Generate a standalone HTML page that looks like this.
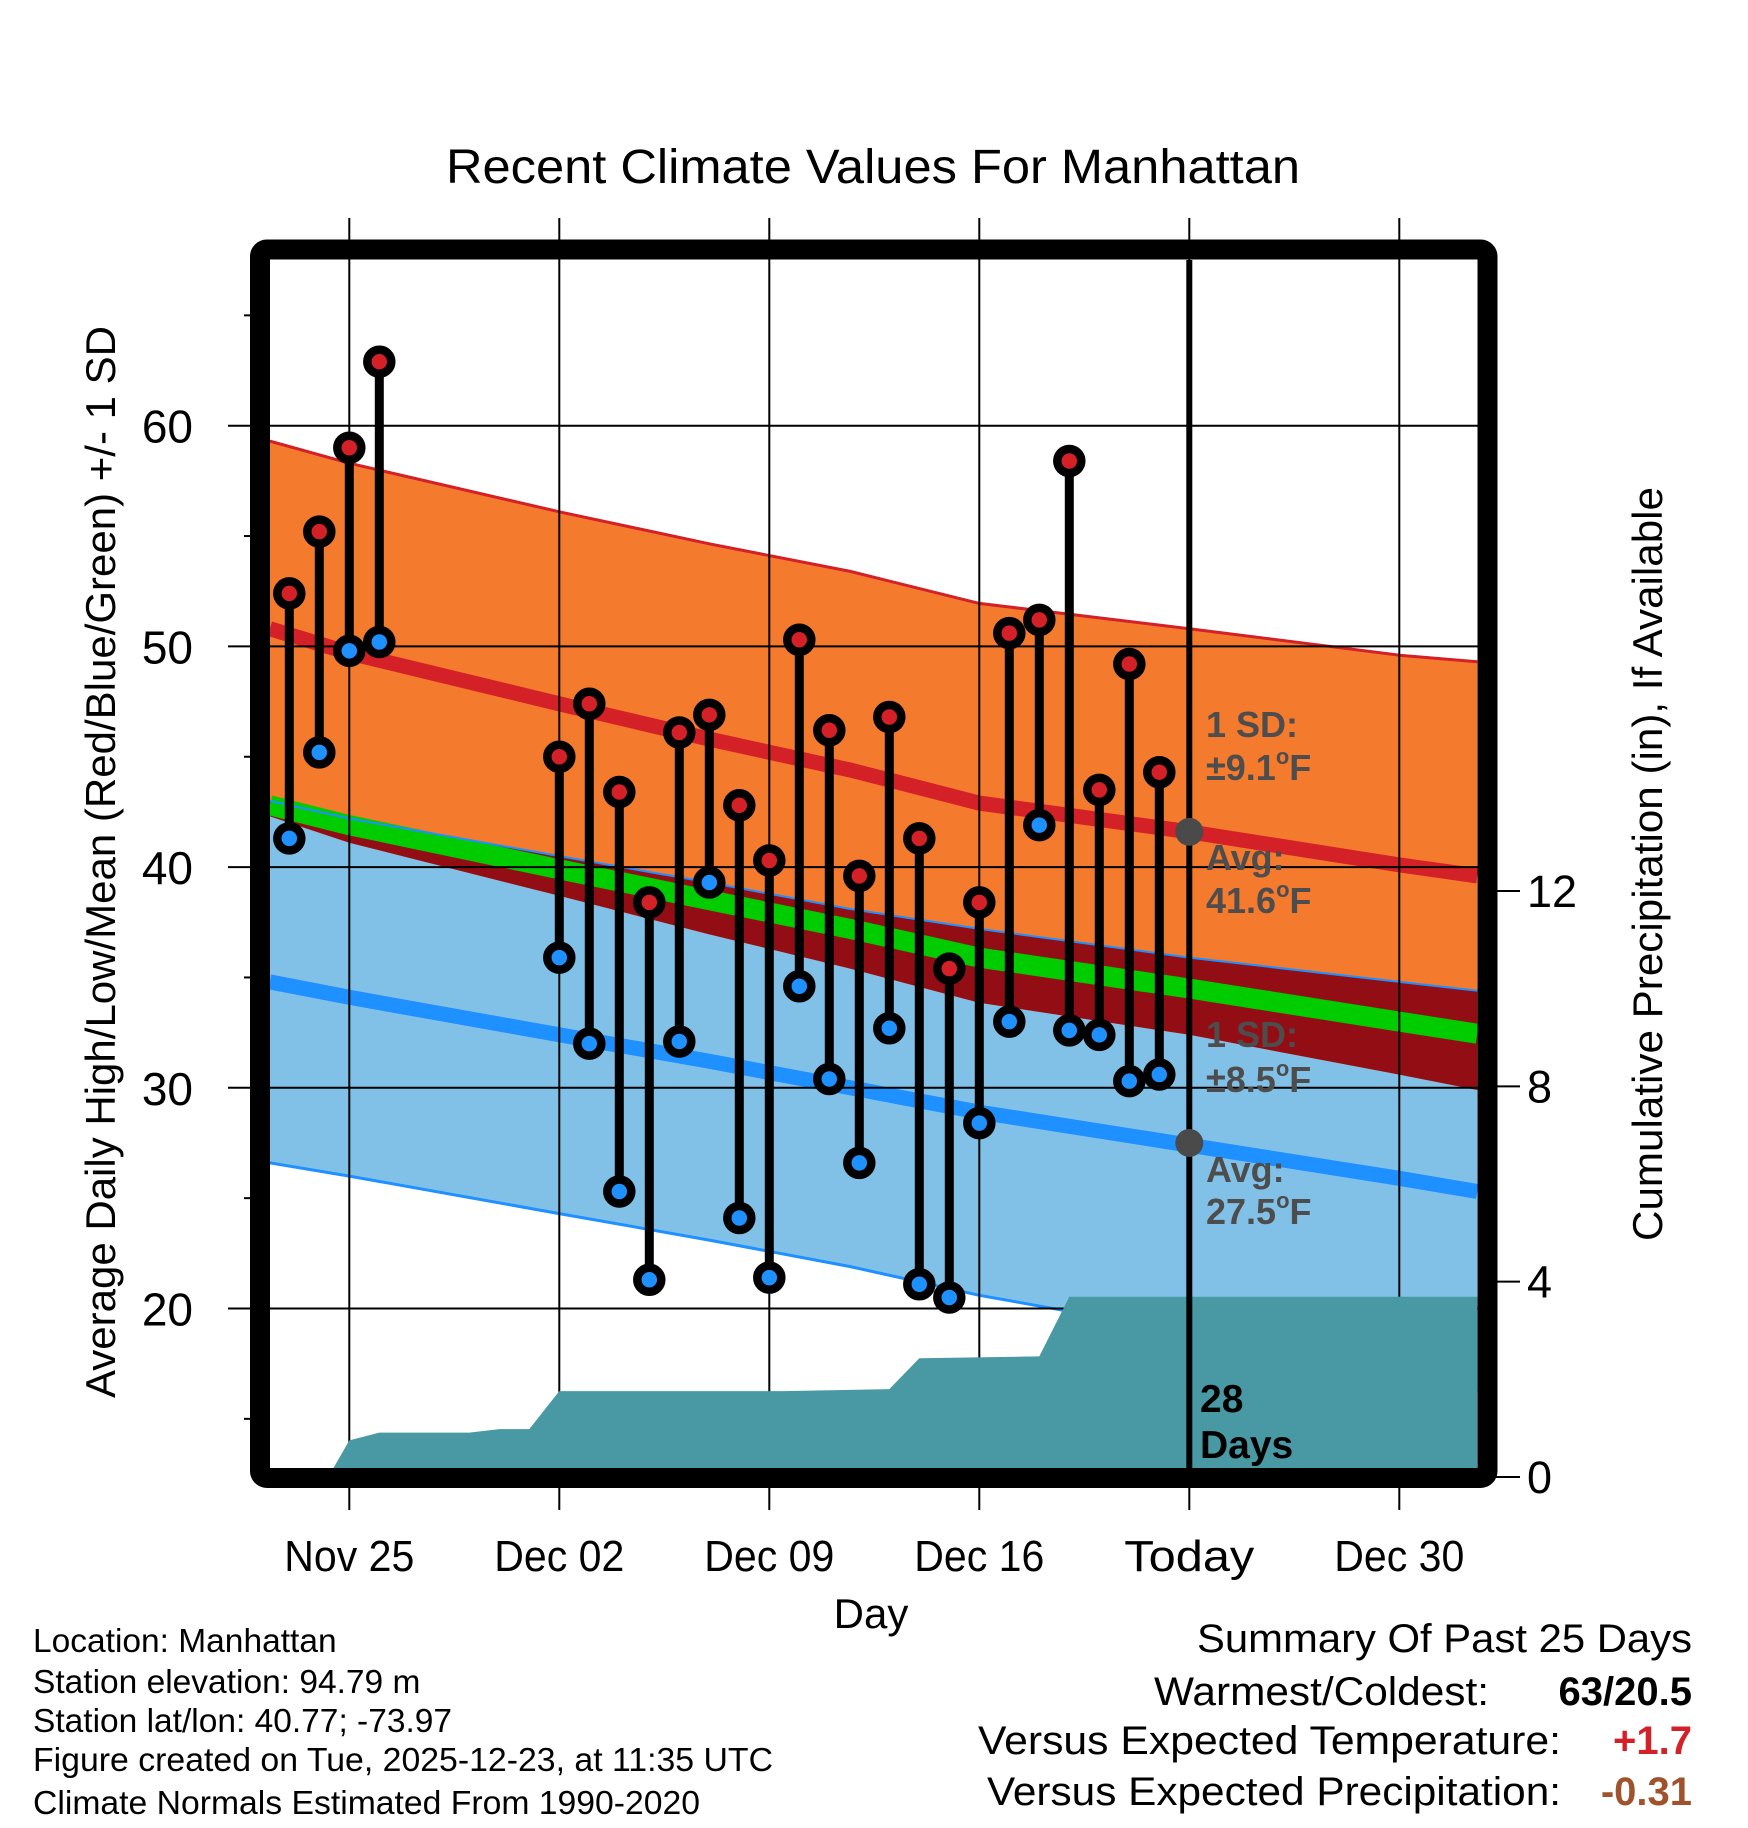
<!DOCTYPE html>
<html><head><meta charset="utf-8"><title>Recent Climate Values For Manhattan</title>
<style>
html,body{margin:0;padding:0;background:#fff;}
svg{display:block;font-family:"Liberation Sans",Arial,sans-serif;}
</style></head>
<body>
<svg id="chart" width="1748" height="1828" viewBox="0 0 1748 1828" xmlns="http://www.w3.org/2000/svg">
<defs><clipPath id="plotclip"><rect x="270" y="260" width="1208" height="1208"/></clipPath></defs>
<rect x="0" y="0" width="1748" height="1828" fill="#fff"/>
<text x="873" y="183" font-size="48" text-anchor="middle" textLength="854" lengthAdjust="spacingAndGlyphs">Recent Climate Values For Manhattan</text>
<g id="bands" clip-path="url(#plotclip)"></g>
<g id="grid"></g>
<g id="precip" clip-path="url(#plotclip)"></g>
<g id="stems" clip-path="url(#plotclip)"></g>
<g id="today"></g>
<rect x="260" y="249.5" width="1227.5" height="1228.5" rx="7" fill="none" stroke="#000" stroke-width="20"/>
<g id="axes"></g>
<g font-weight="bold" fill="#4d4d4d" font-size="36">
<text x="1206" y="737">1 SD:</text>
<text x="1206" y="780">±9.1<tspan font-size="22" dy="-16">o</tspan><tspan dy="16">F</tspan></text>
<text x="1206" y="870">Avg:</text>
<text x="1206" y="913">41.6<tspan font-size="22" dy="-16">o</tspan><tspan dy="16">F</tspan></text>
<text x="1206" y="1047">1 SD:</text>
<text x="1206" y="1092">±8.5<tspan font-size="22" dy="-16">o</tspan><tspan dy="16">F</tspan></text>
<text x="1206" y="1182">Avg:</text>
<text x="1206" y="1224">27.5<tspan font-size="22" dy="-16">o</tspan><tspan dy="16">F</tspan></text>
</g>
<g font-weight="bold" fill="#000" font-size="39">
<text x="1200" y="1412">28</text>
<text x="1200" y="1458">Days</text>
</g>
<text x="871" y="1628" font-size="42" text-anchor="middle">Day</text>
<text transform="translate(115,862) rotate(-90)" font-size="42" text-anchor="middle" textLength="1072" lengthAdjust="spacingAndGlyphs">Average Daily High/Low/Mean (Red/Blue/Green) +/- 1 SD</text>
<text transform="translate(1662,864) rotate(-90)" font-size="42" text-anchor="middle" textLength="754" lengthAdjust="spacingAndGlyphs">Cumulative Precipitation (in), If Available</text>
<g font-size="33.5">
<text x="33" y="1652">Location: Manhattan</text>
<text x="33" y="1693">Station elevation: 94.79 m</text>
<text x="33" y="1732">Station lat/lon: 40.77; -73.97</text>
<text x="33" y="1771" textLength="740" lengthAdjust="spacingAndGlyphs">Figure created on Tue, 2025-12-23, at 11:35 UTC</text>
<text x="33" y="1814" textLength="667" lengthAdjust="spacingAndGlyphs">Climate Normals Estimated From 1990-2020</text>
</g>
<g font-size="40">
<text x="1692" y="1652" text-anchor="end" textLength="495" lengthAdjust="spacingAndGlyphs">Summary Of Past 25 Days</text>
<text x="1489" y="1705" text-anchor="end" textLength="335" lengthAdjust="spacingAndGlyphs">Warmest/Coldest:</text>
<text x="1692" y="1705" text-anchor="end" font-weight="bold">63/20.5</text>
<text x="1561" y="1754" text-anchor="end" textLength="583" lengthAdjust="spacingAndGlyphs">Versus Expected Temperature:</text>
<text x="1692" y="1754" text-anchor="end" font-weight="bold" fill="#d42027">+1.7</text>
<text x="1561" y="1805" text-anchor="end" textLength="574" lengthAdjust="spacingAndGlyphs">Versus Expected Precipitation:</text>
<text x="1692" y="1805" text-anchor="end" font-weight="bold" fill="#a0522d">-0.31</text>
</g>
</svg>
<script>
// ---- data (day offsets from Nov 23) ----
const obsDays = [0,1,2,3,9,10,11,12,13,14,15,16,17,18,19,20,21,22,23,24,25,26,27,28,29];
const highs = [52.4,55.2,59.0,62.9,45.0,47.4,43.4,38.4,46.1,46.9,42.8,40.3,50.3,46.2,39.6,46.8,41.3,35.4,38.4,50.6,51.2,58.4,43.5,49.2,44.3];
const lows = [41.3,45.2,49.8,50.2,35.9,32.0,25.3,21.3,32.1,39.3,24.1,21.4,34.6,30.4,26.6,32.7,21.1,20.5,28.4,33.0,41.9,32.6,32.4,30.3,30.6];
const normDays = [-0.65,2,9,14,18.7,23,30,37,39.6];
const normHigh = [50.8,49.7,47.4,45.8,44.4,42.9,41.6,40.1,39.6];
const normLow = [34.8,34.1,32.4,31.2,30.0,28.9,27.4,25.9,25.3];
const sdHigh = [8.5,8.6,8.7,8.85,9.0,9.05,9.2,9.5,9.7];
const sdLow = [8.2,8.1,8.1,8.1,8.1,8.3,8.5,8.9,9.1];
const precipDays = [-0.65,1.3,2,3,6,7,8,9,16.5,20,21,25,26,39.6];
const precipCum = [0,0,0.75,0.91,0.91,0.98,0.98,1.76,1.76,1.80,2.43,2.47,3.69,3.69];
const tempTicks = [20,30,40,50,60];
const tempMinorTicks = [15,25,35,45,55,65];
const precipTicks = [0,4,8,12];
const dateTickDays = [2,9,16,23,30,37];
const dateTickLabels = ["Nov 25","Dec 02","Dec 09","Dec 16","Today","Dec 30"];
const todayDay = 30;
const todayHigh = 41.6, todayLow = 27.5;

// ---- axis functions ----
const X = d => 289.3 + 30*d;
const Y = v => 425.7 + (60 - v)*22.07;
const YP = p => 1477 - 48.83*p;
const NS = "http://www.w3.org/2000/svg";
function mk(tag, attrs, parent){ const e=document.createElementNS(NS,tag); for(const k in attrs) e.setAttribute(k,attrs[k]); parent.appendChild(e); return e; }
const pts = (ds, vs) => ds.map((d,i)=>X(d).toFixed(1)+","+Y(vs[i]).toFixed(1));

const bands = document.getElementById('bands');
const hiU = normHigh.map((v,i)=>v+sdHigh[i]), hiL = normHigh.map((v,i)=>v-sdHigh[i]);
const loU = normLow.map((v,i)=>v+sdLow[i]), loL = normLow.map((v,i)=>v-sdLow[i]);
const mean = normHigh.map((v,i)=>(v+normLow[i])/2);
const rev = a => a.slice().reverse();
let e;
e = mk('polygon',{points:pts(normDays,loU).concat(pts(rev(normDays),rev(loL))).join(' '),fill:'#82c1e7'},bands);
 
e = mk('polygon',{points:pts(normDays,hiU).concat(pts(rev(normDays),rev(hiL))).join(' '),fill:'#f47a2e'},bands);
 
e = mk('polygon',{points:pts(normDays,loU).concat(pts(rev(normDays),rev(hiL))).join(' '),fill:'#930d15'},bands);
 
e = mk('polyline',{points:pts(normDays,mean).join(' '),fill:'none',stroke:'#00cc00','stroke-width':20},bands);
 
e = mk('polyline',{points:pts(normDays,loU).join(' '),fill:'none',stroke:'#1e90ff','stroke-width':2},bands);
 
e = mk('polyline',{points:pts(normDays,normHigh).join(' '),fill:'none',stroke:'#d42027','stroke-width':15},bands);
 
e = mk('polyline',{points:pts(normDays,normLow).join(' '),fill:'none',stroke:'#1e90ff','stroke-width':15},bands);
 
e = mk('polyline',{points:pts(normDays,hiU).join(' '),fill:'none',stroke:'#d42027','stroke-width':3},bands);
 
e = mk('polyline',{points:pts(normDays,loL).join(' '),fill:'none',stroke:'#1e90ff','stroke-width':3},bands);
 

// grid
const grid = document.getElementById('grid');
tempTicks.forEach(v=>{
  const l = mk('line',{x1:270,x2:1478,y1:Y(v),y2:Y(v),stroke:'#000','stroke-width':2},grid);
   
});
dateTickDays.forEach(d=>{
  const l = mk('line',{x1:X(d),x2:X(d),y1:218,y2:1468,stroke:'#000','stroke-width':2},grid);
   
});

// precip
const pr = document.getElementById('precip');
const pp = precipDays.map((d,i)=>X(d).toFixed(1)+","+YP(precipCum[i]).toFixed(1));
pp.push(X(precipDays[precipDays.length-1]).toFixed(1)+",1480", X(precipDays[0]).toFixed(1)+",1480");
e = mk('polygon',{points:pp.join(' '),fill:'#4899a3'},pr);
 

// stems
const st = document.getElementById('stems');
obsDays.forEach((d,i)=>{
  const g = mk('g',{},st);
   
  const s = mk('line',{x1:X(d),x2:X(d),y1:Y(highs[i]),y2:Y(lows[i]),stroke:'#000','stroke-width':9},g);
   
  const h = mk('circle',{cx:X(d),cy:Y(highs[i]),r:12,fill:'#d42027',stroke:'#000','stroke-width':8.5},g);
   
  const lo = mk('circle',{cx:X(d),cy:Y(lows[i]),r:12,fill:'#1e90ff',stroke:'#000','stroke-width':8.5},g);
   
});

// today
const td = document.getElementById('today');
e = mk('line',{x1:X(todayDay),x2:X(todayDay),y1:260,y2:1468,stroke:'#000','stroke-width':6},td);
 
e = mk('circle',{cx:X(todayDay),cy:Y(todayHigh),r:14,fill:'#4a4a4a'},td);
 
e = mk('circle',{cx:X(todayDay),cy:Y(todayLow),r:14,fill:'#4a4a4a'},td);
 

// axes
const ax = document.getElementById('axes');
tempTicks.forEach(v=>{
  const t = mk('line',{x1:228,x2:252,y1:Y(v),y2:Y(v),stroke:'#000','stroke-width':2},ax);
   
  const lb = mk('text',{x:193,y:Y(v)+17,'font-size':46,'text-anchor':'end'},ax);
   
  lb.textContent = v;
});
tempMinorTicks.forEach(v=>{
  const t = mk('line',{x1:244,x2:252,y1:Y(v),y2:Y(v),stroke:'#000','stroke-width':2},ax);
   
});
precipTicks.forEach(p=>{
  const t = mk('line',{x1:1495,x2:1520,y1:YP(p),y2:YP(p),stroke:'#000','stroke-width':2},ax);
   
  const lb = mk('text',{x:1527,y:YP(p)+16,'font-size':45},ax);
   
  lb.textContent = p;
});
dateTickDays.forEach((d,i)=>{
  const t = mk('line',{x1:X(d),x2:X(d),y1:1486,y2:1510,stroke:'#000','stroke-width':2},ax);
   
  const lb = mk('text',{x:X(d),y:1571,'font-size':44,'text-anchor':'middle',textLength:130,lengthAdjust:'spacingAndGlyphs'},ax);
   
  lb.textContent = dateTickLabels[i];
});
</script>
</body></html>
